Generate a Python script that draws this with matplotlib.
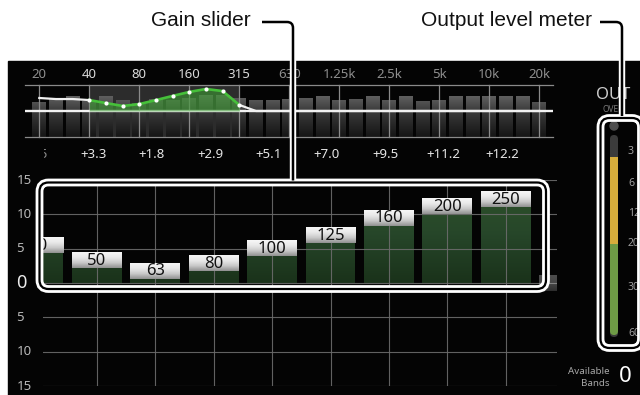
import numpy as np
import matplotlib
matplotlib.use("Agg")
import matplotlib.pyplot as plt
from matplotlib.patches import Rectangle, FancyBboxPatch, PathPatch, Circle
from matplotlib.path import Path
from matplotlib.colors import LinearSegmentedColormap
from matplotlib.transforms import blended_transform_factory
import matplotlib.patheffects as pe

# ------------------------------------------------------------------ data
spectrum_bands = ["20", "25", "31.5", "40", "50", "63", "80", "100", "125", "160",
                  "200", "250", "315", "400", "500", "630", "800", "1k", "1.25k", "1.6k",
                  "2k", "2.5k", "3.15k", "4k", "5k", "6.3k", "8k", "10k", "12.5k", "16k", "20k"]
freq_tick_labels = ["20", "40", "80", "160", "315", "630", "1.25k", "2.5k", "5k", "10k", "20k"]
spectrum_level = [5.2, 7.5, 8.7, 5.8, 8.7, 6.3, 4.6, 6.9, 6.3, 7.5, 9.2, 9.2, 7.5, 6.3, 6.3, 6.9,
                  7.5, 8.7, 6.3, 6.9, 8.7, 6.3, 8.7, 5.8, 6.3, 8.7, 8.7, 8.7, 8.7, 8.7, 5.2]
eq_curve = [7.5, 6.9, 6.9, 6.3, 4.6, 2.9, 4.0, 6.3, 8.7, 11.0, 12.7, 11.5, 3.5, 0.0, 0.0, 0.0,
            0.0, 0.0, 0.0, 0.0, 0.0, 0.0, 0.0, 0.0, 0.0, 0.0, 0.0, 0.0, 0.0, 0.0, 0.0]
selected_first, selected_last = "40", "315"

slider_bands = ["40", "50", "63", "80", "100", "125", "160", "200", "250", "315"]
slider_gain = [5.5, 3.3, 1.8, 2.9, 5.1, 7.0, 9.5, 11.2, 12.2, 0.0]
gain_axis_values = [15, 10, 5, 0, -5, -10, -15]
gain_axis_labels = ["15", "10", "5", "0", "5", "10", "15"]

meter_marks = [3, 6, 12, 20, 30, 60]
meter_level_db = -3.5
available_bands = "0"

# ------------------------------------------------------------------ layout
W, H = 640, 395
UI = ["Noto Sans", "DejaVu Sans"]
ANN = ["Liberation Sans", "DejaVu Sans"]


def frect(x0, y0, x1, y1):
    return [x0 / W, 1 - y1 / H, (x1 - x0) / W, (y1 - y0) / H]


def rects_path(rects):
    verts, codes = [], []
    for x, y, w, h in rects:
        verts += [(x, y), (x + w, y), (x + w, y + h), (x, y + h), (x, y)]
        codes += [Path.MOVETO, Path.LINETO, Path.LINETO, Path.LINETO, Path.CLOSEPOLY]
    return Path(verts, codes)


def grad_image(ax, extent, colors, z, clip=None, alpha=1.0):
    cmap = LinearSegmentedColormap.from_list("g", colors)
    im = ax.imshow(np.linspace(0, 1, 256)[:, None], extent=extent, origin="lower",
                   cmap=cmap, aspect="auto", interpolation="bilinear", zorder=z, alpha=alpha)
    if clip is not None:
        im.set_clip_path(clip, ax.transData)
    return im


fig = plt.figure(figsize=(W / 100, H / 100), dpi=100)
fig.patch.set_facecolor("white")

# background panel
bg = fig.add_axes([0, 0, 1, 1])
bg.set_xlim(0, W)
bg.set_ylim(H, 0)
bg.axis("off")
bg.add_patch(Rectangle((8, 61), W - 8, H - 61, color="#040404", zorder=0))

# ------------------------------------------------------------------ spectrum / EQ curve
sp = fig.add_axes(frect(25, 85, 553, 137))
sp.set_zorder(1)
sp.axis("off")
n = len(spectrum_bands)
xi = np.arange(n)
s0 = spectrum_bands.index(selected_first)
s1 = spectrum_bands.index(selected_last)
sxlim = ((25 - 39.3) / 16.667, (553 - 39.3) / 16.667)

sp.add_patch(Rectangle((s0, -15), s1 - s0, 30, color="#2c2c2c", zorder=0.5, lw=0))
bw = 0.84
bar_path = rects_path([(i - bw / 2, -15, bw, lv + 15) for i, lv in zip(xi, spectrum_level)])
grad_image(sp, [sxlim[0], sxlim[1], -15, 15], ["#151515", "#3a3a3a", "#7c7c7c"], 1, clip=bar_path)

for i in range(0, n, 3):
    sp.plot([i, i], [-15, 15], color="#8a8a8a", lw=0.9, zorder=3, clip_on=False)
for v in (15, -15):
    sp.axhline(v, color="#8a8a8a", lw=0.9, zorder=3, clip_on=False)
sp.axhline(0, color="#f2f2f2", lw=1.7, zorder=4)

eq = np.array(eq_curve)
sel = slice(s0, s1 + 1)
sp.fill_between(xi[sel], 0, eq[sel], color="#3e9c34", alpha=0.6, lw=0, zorder=4)
sp.plot(xi[:s0 + 1], eq[:s0 + 1], color="#f0f0f0", lw=1.6, zorder=5)
sp.plot(xi[s1:], eq[s1:], color="#f0f0f0", lw=1.6, zorder=5)
sp.plot(xi[sel], eq[sel], color="#46c03a", lw=1.9, zorder=6)
sp.scatter(xi[sel], eq[sel], s=9, color="white", zorder=7, lw=0)
sp.set_xlim(*sxlim)
sp.set_ylim(-15, 15)

tr_top = blended_transform_factory(sp.transData, sp.transAxes)
for lab in freq_tick_labels:
    i = spectrum_bands.index(lab)
    col = "#dadada" if s0 <= i <= s1 else "#8f8f8f"
    sp.text(i, 1 + 10 / 52, lab, transform=tr_top, ha="center", va="center",
            fontsize=9.5, color=col, family=UI, clip_on=False)

# ------------------------------------------------------------------ gain sliders
BX0, BX1 = 43, 557
bxlim = ((BX0 - 38.5) / 58.4, (BX1 - 38.5) / 58.4)

gr = fig.add_axes(frect(44, 141, 560, 169))
gr.set_zorder(1)
gr.axis("off")
gr.set_xlim((44 - 38.5) / 58.4, (560 - 38.5) / 58.4)
gr.set_ylim(0, 1)
for k, g in enumerate(slider_gain[:-1]):
    col = "#8a8a8a" if k == 0 else "#e6e6e6"
    gr.text(k - 0.06, 0.5, f"{g:+.1f}", ha="center", va="center", fontsize=9.5,
            color=col, family=UI, clip_on=True)

bt = fig.add_axes(frect(BX0, 180, BX1, 386))
bt.set_zorder(1)
bt.axis("off")
for v in gain_axis_values:
    bt.axhline(v, color="#6c6c6c", lw=0.8, zorder=3, alpha=0.9)
for k in range(1, len(slider_bands) - 1):
    bt.axvline(k, color="#6c6c6c", lw=0.8, zorder=3, alpha=0.9)

sw = 0.856
knob_h = 2.33
n_vis = len(slider_bands) - 1
gbar_path = rects_path([(k - sw / 2, 0, sw, g) for k, g in enumerate(slider_gain)])
grad_image(bt, [bxlim[0], bxlim[1], 0, 15], ["#1a321a", "#27472a", "#2e5229"], 2, clip=gbar_path)
for k, (lab, g) in enumerate(zip(slider_bands, slider_gain)):
    faded = k >= n_vis
    grad_image(bt, [k - sw / 2, k + sw / 2, g - knob_h / 2, g + knob_h / 2],
               ["#8f8f8f", "#c9c9c9", "#e9e9e9", "#f7f7f7"], 4, alpha=0.3 if faded else 1.0)
    if not faded:
        bt.text(k, g - 0.1, lab, ha="center", va="center", fontsize=12, color="#111111",
                family=UI, zorder=5, clip_on=True)
bt.set_xlim(*bxlim)
bt.set_ylim(-15, 15)

tr_y = blended_transform_factory(bg.transData, bt.transData)
for v, lab in zip(gain_axis_values, gain_axis_labels):
    big = (v == 0)
    bg.text(16.5, v, lab, transform=tr_y, ha="left", va="center",
            fontsize=13 if big else 9.5, fontweight="bold",
            color="#ececec" if big else "#b8b8b8", family=UI, zorder=5)

# ------------------------------------------------------------------ overlay (meter, annotations)
ov = fig.add_axes([0, 0, 1, 1])
ov.set_zorder(10)
ov.set_xlim(0, W)
ov.set_ylim(H, 0)
ov.axis("off")

# output meter (scale positions are layout anchors)
METER_DB = [0, 3, 6, 12, 20, 30, 60]
METER_Y = [140, 152, 183, 214, 244, 288, 333]


def meter_y(db):
    return float(np.interp(abs(db), METER_DB, METER_Y))


ov.add_patch(FancyBboxPatch((610, 135), 8, 202, boxstyle="round,pad=0,rounding_size=4",
                            color="#3b3b3b", lw=0, zorder=1))
ov.add_patch(FancyBboxPatch((610, meter_y(20) - 6), 8, 337 - meter_y(20) + 4,
                            boxstyle="round,pad=0,rounding_size=4",
                            color="#6e9b45", lw=0, zorder=2))
ov.add_patch(Rectangle((610, meter_y(meter_level_db)), 8, meter_y(20) - meter_y(meter_level_db),
                       color="#d7ad3b", lw=0, zorder=3))
ov.add_patch(Circle((614, 126), 4, color="#4f4f4f", zorder=3))
for m in meter_marks:
    ov.text(628, meter_y(m), str(m), ha="left", va="center", fontsize=7.5,
            color="#a0a0a0", family=UI, zorder=3)
ov.text(613, 95, "OUT", ha="center", va="center", fontsize=12, color="#cdcdcd",
        family=UI, zorder=3)
ov.text(613, 110, "OVER", ha="center", va="center", fontsize=6, color="#7a7a7a",
        family=UI, zorder=3)

ov.text(610, 371.5, "Available", ha="right", va="center", fontsize=7, color="#a8a8a8", family=UI)
ov.text(610, 383, "Bands", ha="right", va="center", fontsize=7, color="#a8a8a8", family=UI)
ov.text(625, 376, available_bands, ha="center", va="center", fontsize=16, fontweight="bold",
        color="white", family=UI)

# double-line rounded callout boxes
for (x0, y0, w, h) in [(39.5, 182.5, 506.5, 106.5), (600.5, 118, 40.5, 230)]:
    ov.add_patch(FancyBboxPatch((x0, y0), w, h, boxstyle="round,pad=0,rounding_size=9",
                                fill=False, ec="white", lw=5.6, zorder=6))
    ov.add_patch(FancyBboxPatch((x0, y0), w, h, boxstyle="round,pad=0,rounding_size=9",
                                fill=False, ec="black", lw=1.6, zorder=7))

# leader lines and callout texts
for (xs, xv, yb) in [(262, 293, 182.5), (600, 622, 118)]:
    yl = 22
    path = Path([(xs, yl), (xv - 6, yl), (xv, yl), (xv, yl + 6), (xv, yb - 2)],
                [Path.MOVETO, Path.LINETO, Path.CURVE3, Path.CURVE3, Path.LINETO])
    ov.add_patch(PathPatch(path, fill=False, ec="black", lw=1.8, zorder=8,
                           path_effects=[pe.Stroke(linewidth=4.6, foreground="white"), pe.Normal()]))
ov.text(251, 21, "Gain slider", ha="right", va="center", fontsize=15, color="#111111", family=ANN)
ov.text(592, 21, "Output level meter", ha="right", va="center", fontsize=15, color="#111111",
        family=ANN)

fig.savefig("out.png", dpi=100, facecolor="white")
